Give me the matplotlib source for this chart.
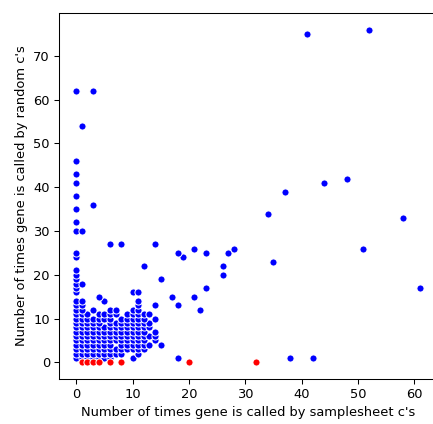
import numpy as np
import matplotlib
matplotlib.use('Agg')
import matplotlib.pyplot as plt

# genes called by samplesheet c's (x) vs random c's (y), one list of x per y value
rows_blue = {
    1: [0, 1, 2, 3, 4, 5, 6, 10, 18, 38, 42],
    2: [0, 1, 2, 3, 4, 5, 6, 7, 8, 11],
    3: [0, 1, 2, 3, 4, 5, 6, 7, 8, 9, 10, 11, 12],
    4: [0, 1, 2, 3, 4, 5, 6, 8, 9, 10, 11, 12, 13, 15],
    5: [0, 1, 2, 3, 4, 5, 6, 7, 8, 9, 10, 11, 12, 14],
    6: [0, 1, 2, 3, 4, 5, 6, 7, 8, 9, 10, 11, 12, 13, 14],
    7: [0, 1, 2, 3, 4, 5, 6, 7, 8, 9, 10, 11, 12, 14],
    8: [0, 1, 2, 3, 4, 5, 6, 7, 8, 9, 10, 11, 12, 13],
    9: [0, 1, 2, 3, 4, 6, 7, 8, 9, 10, 11, 12, 13],
    10: [0, 1, 2, 3, 4, 5, 6, 8, 9, 10, 11, 12, 14],
    11: [0, 1, 2, 4, 5, 6, 7, 9, 10, 11, 12, 13],
    12: [0, 1, 3, 6, 7, 10, 11, 22],
    13: [0, 1, 11, 14, 18],
    14: [0, 1, 5, 11],
    15: [4, 17, 21],
    16: [0, 10, 11],
    17: [0, 23, 61],
    18: [0, 1],
    19: [0, 15],
    20: [0, 26],
    21: [0],
    22: [12, 26],
    23: [35],
    24: [0, 19],
    25: [0, 18, 23, 27],
    26: [21, 28, 51],
    27: [6, 8, 14],
    30: [0, 1],
    32: [0],
    33: [58],
    34: [34],
    35: [0],
    36: [3],
    38: [0],
    39: [37],
    41: [0, 44],
    42: [48],
    43: [0],
    46: [0],
    54: [1],
    62: [0, 3],
    75: [41],
    76: [52],
}
red_x = [1, 2, 3, 4, 6, 8, 20, 32]
red_y = [0, 0, 0, 0, 0, 0, 0, 0]

blue_x = [x for y in rows_blue for x in rows_blue[y]]
blue_y = [y for y in rows_blue for x in rows_blue[y]]

dpi = 94
fig = plt.figure(figsize=(433/dpi, 424/dpi), dpi=dpi)
ax = fig.add_axes([0.1363, 0.1061, 0.8729, 0.8632])

ax.scatter(blue_x, blue_y, s=30, color='blue', edgecolor='white', linewidth=0.75)
ax.scatter(red_x, red_y, s=30, color='red', edgecolor='white', linewidth=0.75)

ax.set_xlabel("Number of times gene is called by samplesheet c's")
ax.set_ylabel("Number of times gene is called by random c's")

plt.savefig('out.png', dpi=dpi)
